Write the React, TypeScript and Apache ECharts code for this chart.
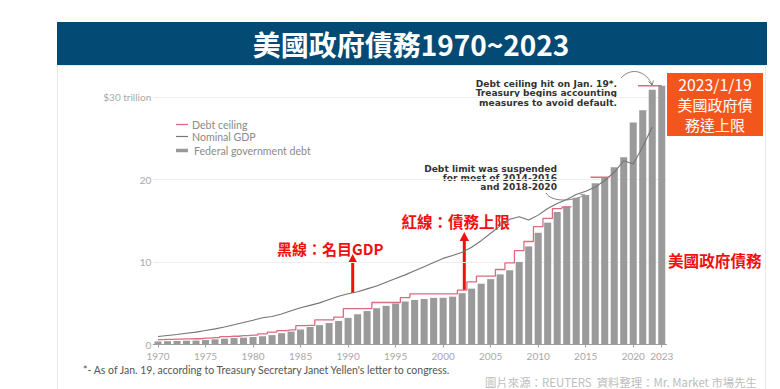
import React, { useEffect, useRef } from "react";
import * as echarts from "echarts";

const years: string[] = Array.from({ length: 54 }, (_, i) => String(1970 + i));

// Federal government debt, $ trillion
const federalDebt = [
  0.37, 0.40, 0.43, 0.46, 0.48, 0.54, 0.63, 0.71, 0.78, 0.83,
  0.91, 1.00, 1.14, 1.37, 1.57, 1.82, 2.12, 2.35, 2.60, 2.86,
  3.23, 3.67, 4.06, 4.41, 4.69, 4.97, 5.22, 5.41, 5.53, 5.66,
  5.67, 5.81, 6.23, 6.78, 7.38, 7.93, 8.51, 9.01, 10.02, 11.91,
  13.56, 14.79, 16.07, 16.74, 17.82, 18.15, 19.57, 20.24, 21.52, 22.72,
  26.95, 28.43, 30.93, 31.40,
];

// Nominal GDP, $ trillion
const nominalGDP: (number | null)[] = [
  0.97, 1.1, 1.22, 1.36, 1.5, 1.7, 1.9, 2.12, 2.4, 2.68,
  2.95, 3.25, 3.4, 3.7, 4.1, 4.45, 4.75, 5.05, 5.45, 5.85,
  6.15, 6.4, 6.75, 7.1, 7.55, 8.0, 8.45, 8.95, 9.45, 9.95,
  10.45, 10.8, 11.2, 11.8, 12.6, 13.5, 14.4, 15.2, 15.5, 15.1,
  15.7, 16.5, 17.1, 17.6, 18.2, 18.6, 19.1, 19.9, 20.9, 22.3,
  21.9, 24.0, 26.4, null,
];

// Debt ceiling, $ trillion (null = suspended)
const debtCeiling: (number | null)[] = [
  0.6, 0.63, 0.65, 0.68, 0.7, 0.78, 0.84, 0.95, 1.0, 1.08,
  1.14, 1.28, 1.49, 1.69, 1.77, 2.28, 2.31, 3.0, 3.0, 3.32,
  4.35, 4.35, 4.35, 5.1, 5.1, 5.1, 5.7, 6.15, 6.15, 6.15,
  6.15, 6.15, 6.6, 7.6, 8.3, 8.3, 9.1, 9.9, 11.4, 12.5,
  14.3, 15.3, 16.5, 16.7, null, null, 20.3, 20.3, null, null,
  null, 31.4, 31.4, 31.4,
];

const yTicks = [0, 10, 20, 30];
const labeledYears = ["1970", "1975", "1980", "1985", "1990", "1995", "2000", "2005", "2010", "2015", "2020", "2023"];

const legendItems = [
  { name: "Debt ceiling", color: "#dc6b80", width: 1.3 },
  { name: "Nominal GDP", color: "#777777", width: 1.2 },
  { name: "Federal government debt", color: "#9a9a9a", width: 3.5 },
];

const annoTop = ["Debt ceiling hit on Jan. 19*.", "Treasury begins accounting", "measures to avoid default."];
const annoMid = ["Debt limit was suspended", "for most of 2014-2016", "and 2018-2020"];
const boxLines = ["2023/1/19", "美國政府債", "務達上限"];

const CJK = "'Noto Sans CJK TC', 'Noto Sans CJK SC', sans-serif";

export default function App() {
  const ref = useRef<HTMLDivElement>(null);

  useEffect(() => {
    if (!ref.current) return;
    const chart = echarts.init(ref.current, undefined, { renderer: "svg" });

    const isLabeled = (_i: number, v: string) => labeledYears.includes(v);

    const graphic: any[] = [
      {
        type: "rect", z: -10, silent: true,
        shape: { x: 57.5, y: 65.5, width: 708, height: 330 },
        style: { fill: "#ffffff", stroke: "#e8e8e8", lineWidth: 1 },
      },
      {
        type: "rect",
        shape: { x: 57, y: 22, width: 710, height: 43 },
        style: { fill: "#034a74" },
      },
      {
        type: "text", x: 411, y: 44,
        style: {
          text: "美國政府債務1970~2023", fill: "#ffffff", fontSize: 28, fontWeight: "bold",
          fontFamily: CJK, align: "center", verticalAlign: "middle",
        },
      },
    ];

    legendItems.forEach((it, i) => {
      const y = [124.5, 136.5, 150.5][i];
      graphic.push({
        type: "line",
        shape: { x1: 176, y1: y, x2: 188, y2: y },
        style: { stroke: it.color, lineWidth: it.width },
      });
      graphic.push({
        type: "text", x: i === 2 ? 194 : 192, y,
        style: {
          text: it.name, fill: "#8a8a8a", fontSize: 10.6, fontFamily: "Lato, sans-serif",
          verticalAlign: "middle",
        },
      });
    });

    annoTop.forEach((t, i) => {
      graphic.push({
        type: "text", x: 617, y: 84 + i * 9.3,
        style: {
          text: t, fill: "#333333", fontSize: 9.1, fontWeight: "bold", lineHeight: 9,
          fontFamily: "'DejaVu Sans', sans-serif", align: "right", verticalAlign: "middle",
        },
      });
    });
    annoMid.forEach((t, i) => {
      graphic.push({
        type: "text", x: 557, y: 169 + i * 9.2,
        style: {
          text: t, fill: "#333333", fontSize: 9.1, fontWeight: "bold", lineHeight: 9,
          fontFamily: "'DejaVu Sans', sans-serif", align: "right", verticalAlign: "middle",
        },
      });
    });

    graphic.push({
      type: "bezierCurve",
      shape: { x1: 621, y1: 78, cpx1: 632, cpy1: 66, cpx2: 647, cpy2: 72, x2: 652, y2: 85 },
      style: { stroke: "#666666", lineWidth: 0.8, fill: "none" },
    });
    graphic.push({
      type: "polyline",
      shape: { points: [[648.5, 81.5], [652, 85], [653.5, 80.5]] },
      style: { stroke: "#666666", lineWidth: 0.8, fill: "none" },
    });
    graphic.push({
      type: "bezierCurve",
      shape: { x1: 546, y1: 193, cpx1: 552, cpy1: 203, cpx2: 574, cpy2: 201, x2: 585, y2: 195 },
      style: { stroke: "#666666", lineWidth: 0.8, fill: "none" },
    });
    graphic.push({
      type: "polyline",
      shape: { points: [[580.5, 194.5], [585, 195], [583, 199]] },
      style: { stroke: "#666666", lineWidth: 0.8, fill: "none" },
    });

    const red = "#f01010";
    graphic.push(
      {
        type: "text", x: 277, y: 248,
        style: { text: "黑線：名目GDP", fill: red, fontSize: 15, fontWeight: "bold", fontFamily: CJK, verticalAlign: "middle" },
      },
      {
        type: "line", shape: { x1: 352.7, y1: 293, x2: 352.7, y2: 261 },
        style: { stroke: red, lineWidth: 3 },
      },
      {
        type: "polygon", shape: { points: [[348, 263], [357.4, 263], [352.7, 254]] },
        style: { fill: red },
      },
      {
        type: "text", x: 401.5, y: 220.5,
        style: { text: "紅線：債務上限", fill: red, fontSize: 15.5, fontWeight: "bold", fontFamily: CJK, verticalAlign: "middle" },
      },
      {
        type: "line", shape: { x1: 464.3, y1: 290, x2: 464.3, y2: 239 },
        style: { stroke: red, lineWidth: 3 },
      },
      {
        type: "polygon", shape: { points: [[459.6, 241], [469, 241], [464.3, 232]] },
        style: { fill: red },
      },
      {
        type: "text", x: 668, y: 259.5,
        style: { text: "美國政府債務", fill: red, fontSize: 15.6, fontWeight: "bold", fontFamily: CJK, verticalAlign: "middle" },
      },
      {
        type: "rect", shape: { x: 667, y: 73, width: 96, height: 63 },
        style: { fill: "#f3561d" },
      }
    );

    boxLines.forEach((t, i) => {
      graphic.push({
        type: "text", x: 715, y: [84.5, 104.5, 124][i],
        style: {
          text: t, fill: "#ffffff", fontSize: i === 0 ? 15.8 : 15, lineHeight: 15,
          fontFamily: CJK, align: "center", verticalAlign: "middle",
        },
      });
    });

    graphic.push(
      {
        type: "text", x: 83, y: 370,
        style: {
          text: "*- As of Jan. 19, according to Treasury Secretary Janet Yellen's letter to congress.",
          fill: "#555555", fontSize: 10.5, fontFamily: "Lato, sans-serif", verticalAlign: "middle",
        },
      },
      {
        type: "text", x: 757, y: 381.5,
        style: {
          text: "圖片來源：REUTERS  資料整理：Mr. Market 市場先生",
          fill: "#bdbdbd", fontSize: 11.4, fontFamily: CJK, align: "right", verticalAlign: "middle",
        },
      }
    );

    chart.setOption({
      animation: false,
      backgroundColor: "#ffffff",
      grid: { left: 153.25, right: 113.5, top: 97.3, bottom: 44.5, containLabel: false },
      xAxis: {
        type: "category",
        data: years,
        boundaryGap: true,
        axisLine: { lineStyle: { color: "#a0a0a0", width: 1 } },
        axisTick: { show: true, interval: isLabeled, alignWithLabel: true, length: 3, lineStyle: { color: "#a0a0a0" } },
        axisLabel: {
          interval: isLabeled, color: "#a8a8a8", fontSize: 10, lineHeight: 10,
          fontFamily: "Lato, sans-serif", margin: 6,
        },
        splitLine: { show: false },
      },
      yAxis: {
        type: "value",
        min: yTicks[0],
        max: yTicks[yTicks.length - 1],
        interval: 10,
        axisLine: { show: false },
        axisTick: { show: false },
        axisLabel: {
          color: "#a8a8a8", fontSize: 10, lineHeight: 10, fontFamily: "Lato, sans-serif", margin: 2,
          formatter: (v: number) => (v === 30 ? "$30 trillion" : String(v)),
        },
        splitLine: { lineStyle: { color: "#eeeeee", width: 1 } },
      },
      series: [
        {
          name: "Federal government debt",
          type: "bar",
          data: federalDebt,
          barCategoryGap: "26%",
          clip: false,
          itemStyle: { color: "#9a9a9a" },
          z: 2,
        },
        {
          name: "Nominal GDP",
          type: "line",
          data: nominalGDP,
          symbol: "none",
          clip: false,
          lineStyle: { color: "#747474", width: 1.1 },
          z: 3,
        },
        {
          name: "Debt ceiling",
          type: "line",
          data: debtCeiling,
          step: "middle",
          symbol: "none",
          clip: false,
          connectNulls: false,
          lineStyle: { color: "#dc6b80", width: 1.3 },
          z: 4,
        },
      ],
      graphic,
    });

    return () => chart.dispose();
  }, []);

  return (
    <div
      ref={ref}
      style={{ position: "fixed", left: 0, top: 0, width: 780, height: 389, background: "#fff" }}
    />
  );
}
